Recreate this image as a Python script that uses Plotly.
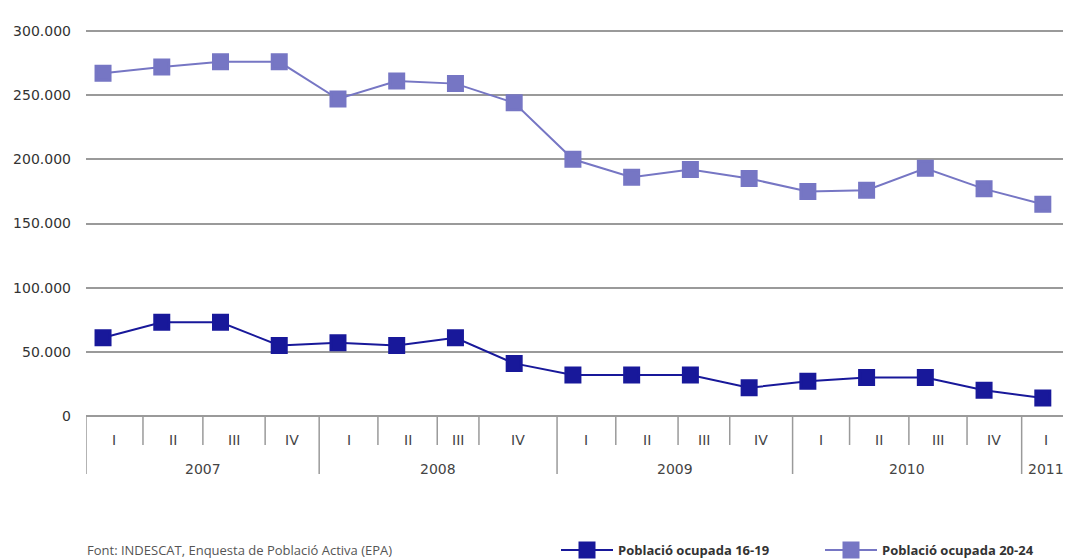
import plotly.graph_objects as go

quarters = ['I', 'II', 'III', 'IV', 'I', 'II', 'III', 'IV', 'I', 'II', 'III', 'IV',
            'I', 'II', 'III', 'IV', 'I']
years = ['2007', '2008', '2009', '2010', '2011']
ocupada_16_19 = [61000, 73000, 73000, 55000, 57000, 55000, 61000, 41000, 32000, 32000,
                 32000, 22000, 27000, 30000, 30000, 20000, 14000]
ocupada_20_24 = [267000, 272000, 276000, 276000, 247000, 261000, 259000, 244000, 200000,
                 186000, 192000, 185000, 175000, 176000, 193000, 177000, 165000]

# cell borders of the category table under the plot (in x units), as in the original
quarter_edges = [-0.29, 0.68, 1.70, 2.76, 3.68, 4.68, 5.69, 6.40, 7.73, 8.73, 9.79,
                 10.67, 11.74, 12.71, 13.72, 14.71, 15.64, 16.48]
year_edges = [-0.29, 3.68, 7.73, 11.74, 15.64, 16.48]

colors = {'16-19': '#18189a', '20-24': '#7676c4'}
grid = '#9a9a9a'

x_idx = list(range(len(quarters)))

fig = go.Figure()
fig.add_trace(go.Scatter(name='<b>Població ocupada 16-19</b>', x=x_idx, y=ocupada_16_19,
                         mode='lines+markers', line=dict(color=colors['16-19'], width=2),
                         marker=dict(symbol='square', size=14, color=colors['16-19'],
                                     line=dict(color=colors['16-19'], width=3)),
                         legend='legend'))
fig.add_trace(go.Scatter(name='<b>Població ocupada 20-24</b>', x=x_idx, y=ocupada_20_24,
                         mode='lines+markers', line=dict(color=colors['20-24'], width=2),
                         marker=dict(symbol='square', size=14, color=colors['20-24'],
                                     line=dict(color=colors['20-24'], width=3)),
                         legend='legend2'))

# page has an 8px body margin; plot area is 396px tall, bottom at page y=416
def py(px):
    return -(px - 416) / 396

def pxx(px):
    return (px - 86) / 985

shapes = []
for e in quarter_edges[:-1]:
    bottom = 474 if e in year_edges else 445
    shapes.append(dict(type='line', xref='x', yref='paper', x0=e, x1=e, y0=0, y1=py(bottom),
                       line=dict(color=grid, width=1.5)))
shapes.append(dict(type='line', xref='paper', yref='paper', x0=0, x1=1, y0=0, y1=0,
                   line=dict(color=grid, width=2)))

annotations = []
for i, q in enumerate(quarters):
    annotations.append(dict(x=(quarter_edges[i] + quarter_edges[i + 1]) / 2, y=py(440),
                            xref='x', yref='paper', yanchor='middle', text=q, showarrow=False,
                            font=dict(family='DejaVu Sans', size=14, color='#444')))
for i, yr in enumerate(years):
    annotations.append(dict(x=(year_edges[i] + year_edges[i + 1]) / 2, y=py(469),
                            xref='x', yref='paper', yanchor='middle', text=yr, showarrow=False,
                            font=dict(family='DejaVu Sans', size=14, color='#444')))
annotations.append(dict(x=-1 / 985, y=py(550), xref='paper', yref='paper', xanchor='left',
                        yanchor='middle',
                        text='Font: INDESCAT, Enquesta de Població Activa (EPA)', showarrow=False,
                        font=dict(family='Open Sans', size=13, color='#555')))

legend_style = dict(orientation='h', y=py(550), xanchor='left', yanchor='middle',
                    font=dict(family='Open Sans', size=13, color='#333'), itemwidth=52,
                    bgcolor='rgba(0,0,0,0)')

fig.update_layout(
    width=1063, height=560,
    margin=dict(l=78, r=0, t=12, b=152),
    plot_bgcolor='white', paper_bgcolor='white',
    shapes=shapes, annotations=annotations,
    showlegend=True,
    legend=dict(x=pxx(556), **legend_style),
    legend2=dict(x=pxx(820), **legend_style),
)
fig.update_xaxes(range=[-0.29, 16.48], showticklabels=False, showgrid=False, zeroline=False,
                 showline=False)
fig.update_yaxes(range=[0, 300000 * 396 / 385], tickvals=[0, 50000, 100000, 150000, 200000, 250000, 300000],
                 ticktext=['0', '50.000', '100.000', '150.000', '200.000', '250.000', '300.000'],
                 showgrid=True, gridcolor=grid, gridwidth=1.5, zeroline=False, showline=False,
                 ticklabelstandoff=14,
                 tickfont=dict(family='DejaVu Sans', size=14, color='#333'))

fig.write_html("out.html")
